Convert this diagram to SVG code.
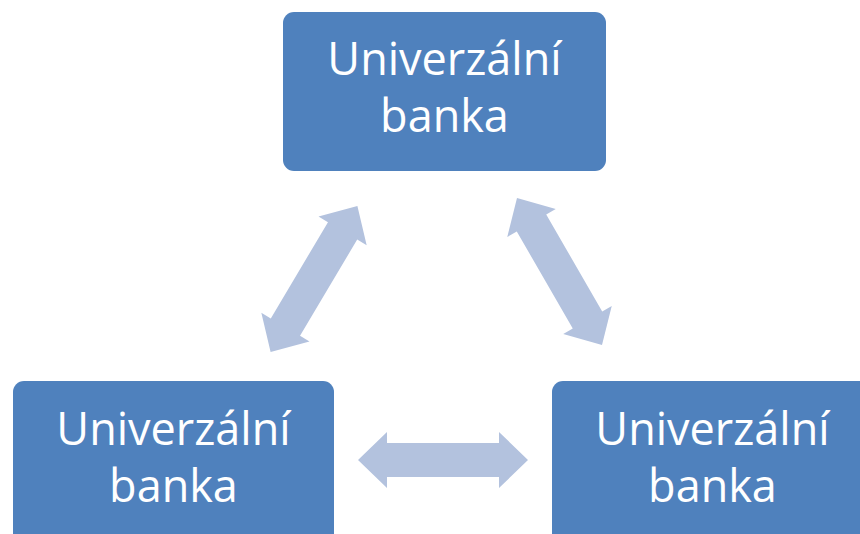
<svg xmlns="http://www.w3.org/2000/svg" width="860" height="534" viewBox="0 0 860 534">
  <style>
    .box { fill: #4f81bd; }
    .lbl { font-family: "Open Sans", "Liberation Sans", sans-serif; font-size: 45px; fill: #ffffff; text-anchor: middle; }
    .arrow { fill: #b3c2de; }
  </style>
  <defs>
    <!-- double-headed block arrow, 170 long, centred on the origin -->
    <path id="dblArrow" d="M -85 0 L -56 -28 L -56 -17 L 56 -17 L 56 -28 L 85 0 L 56 28 L 56 17 L -56 17 L -56 28 Z"/>
  </defs>

  <g id="connectors">
    <use href="#dblArrow" class="arrow" transform="translate(314 279) rotate(-59.3)"/>
    <use href="#dblArrow" class="arrow" transform="translate(559.5 271.5) rotate(60)"/>
    <use href="#dblArrow" class="arrow" transform="translate(443 460)"/>
  </g>

  <g id="bank-top">
    <rect class="box" x="283" y="12" width="323" height="159" rx="11"/>
    <text class="lbl" x="444.5" y="75">Univerzální</text>
    <text class="lbl" x="444.5" y="132">banka</text>
  </g>

  <g id="bank-left">
    <rect class="box" x="13" y="381" width="321" height="170" rx="11"/>
    <text class="lbl" x="173.5" y="445">Univerzální</text>
    <text class="lbl" x="173.5" y="502">banka</text>
  </g>

  <g id="bank-right">
    <rect class="box" x="552" y="381" width="321" height="170" rx="11"/>
    <text class="lbl" x="712.5" y="445">Univerzální</text>
    <text class="lbl" x="712.5" y="502">banka</text>
  </g>
</svg>
